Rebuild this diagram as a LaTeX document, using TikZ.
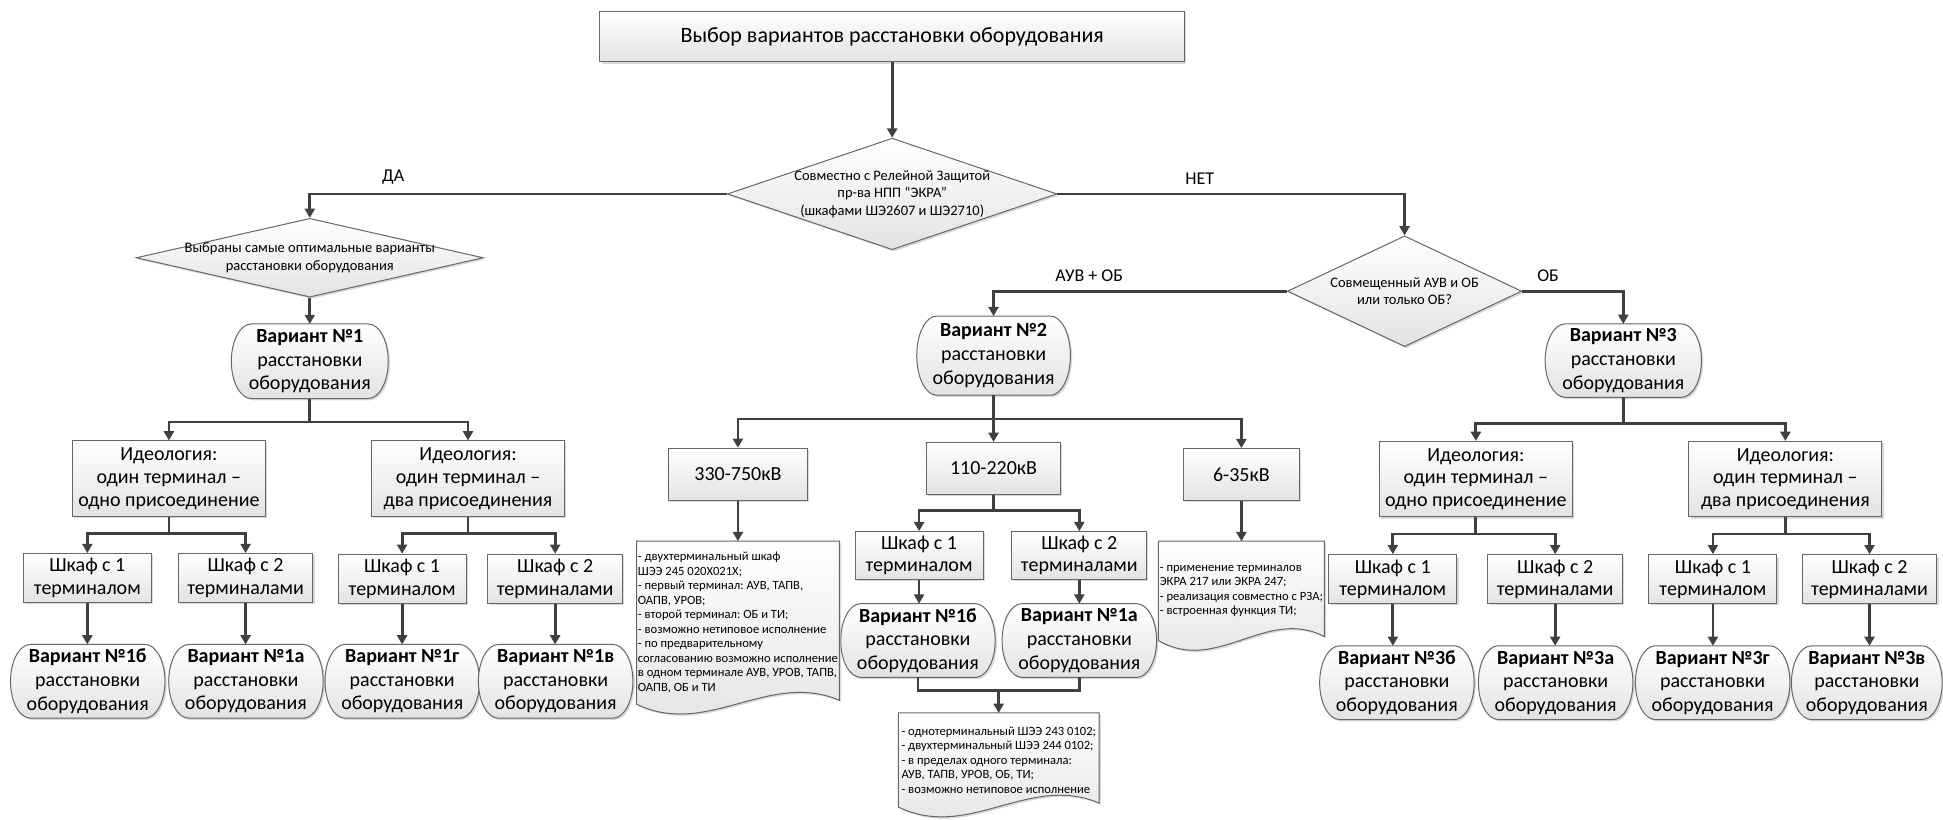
\documentclass[tikz,border=0pt]{standalone}
\usepackage{fontspec}
\setmainfont{Carlito}
\frenchspacing
\usetikzlibrary{shapes.geometric,arrows.meta,calc,shadows}

\tikzset{
    conn/.style={draw=black!75, line width=1.4pt, -{Triangle[length=4.6pt,width=5pt]}},
    bus/.style={draw=black!75, line width=1.4pt},
    gfill/.style={draw=black!60, line width=0.5pt, top color=white, bottom color=black!11,
        drop shadow={shadow xshift=0.9pt, shadow yshift=-0.9pt, fill=black!30}},
    box/.style={gfill, align=center, inner sep=1pt, font=\fontsize{10}{11.3}\selectfont},
    idea/.style={box, minimum width=96.5pt, minimum height=37.8pt},
    cab/.style={box, minimum width=#1, minimum height=24.5pt},
    cab/.default=64pt,
    volt/.style={box, minimum height=26pt},
    decision/.style={gfill, diamond, inner sep=0pt},
    dtext/.style={align=center, font=\fontsize{7.25}{8.8}\selectfont},
    branch/.style={font=\fontsize{9}{10}\selectfont, above=1pt, inner sep=3pt},
    variant/.style={align=center, inner sep=0pt, minimum width=76.9pt, minimum height=36.5pt,
        font=\fontsize{10}{11.8}\selectfont,
        append after command={\pgfextra{
            \path[gfill] let \p1=(\tikzlastnode.north west), \p2=(\tikzlastnode.south east),
                \n1={(\y1-\y2)/2} in
                (\x1+10pt,\y1) -- (\x2-10pt,\y1)
                arc[start angle=90, end angle=-90, x radius=10pt, y radius={\n1*1pt}]
                -- (\x1+10pt,\y2)
                arc[start angle=270, end angle=90, x radius=10pt, y radius={\n1*1pt}] -- cycle;}}},
    note/.style={align=left, inner xsep=0.5pt, inner ysep=0pt,
        font=\fontsize{6.3}{7.25}\selectfont,
        append after command={\pgfextra{
            \path[gfill] let \p1=(\tikzlastnode.north west), \p2=(\tikzlastnode.south east),
                \n1={\x2-\x1} in
                (\x1,\y1) -- (\x2,\y1) -- (\x2,\y2+2pt)
                .. controls (\x1+0.65*\n1,\y2+17pt) and (\x1+0.35*\n1,\y2-17pt) .. (\x1,\y2)
                -- cycle;}}}
}

\begin{document}
\begin{tikzpicture}[x=0.62pt, y=-0.62pt]
    \useasboundingbox (0,0) rectangle (1568,661);

    % Start
    \node[box, minimum width=292.6pt, minimum height=25.4pt, font=\fontsize{11}{13}\selectfont]
        (title) at (720,29.5) {Выбор вариантов расстановки оборудования};

    % Questions
    \node[decision, minimum width=164.9pt, minimum height=55.8pt,
        label={[dtext]center:{Совместно с Релейной Защитой\\пр-ва НПП “ЭКРА”\\(шкафами ШЭ2607 и ШЭ2710)}}]
        (rza) at (720,156.5) {};
    \node[decision, minimum width=173.6pt, minimum height=39.4pt,
        label={[dtext]center:{Выбраны самые оптимальные варианты\\расстановки оборудования}}]
        (best) at (250,208) {};
    \node[decision, minimum width=117.2pt, minimum height=55.4pt,
        label={[dtext]center:{Совмещенный АУВ и ОБ\\или только ОБ?}}]
        (auvob) at (1133.5,235) {};

    % Variants 1, 2, 3
    \node[variant, minimum width=78.1pt, minimum height=36.9pt] (var1) at (250,291.5)
        {\textbf{Вариант №1}\\расстановки\\оборудования};
    \node[variant, minimum width=76.5pt, minimum height=39.2pt] (var2) at (801.8,287)
        {\textbf{Вариант №2}\\расстановки\\оборудования};
    \node[variant, minimum width=77.8pt, minimum height=36.3pt] (var3) at (1310,291)
        {\textbf{Вариант №3}\\расстановки\\оборудования};

    % Ideology
    \node[idea] (idea1a) at (136.3,386.3) {Идеология:\\один терминал –\\одно присоединение};
    \node[idea] (idea1b) at (377.7,386.3) {Идеология:\\один терминал –\\два присоединения};
    \node[idea] (idea3a) at (1191,386.7) {Идеология:\\один терминал –\\одно присоединение};
    \node[idea] (idea3b) at (1440.8,386.7) {Идеология:\\один терминал –\\два присоединения};

    % Voltage classes
    \node[volt, minimum width=69.8pt] (kv330) at (595.5,382.7) {330-750кВ};
    \node[volt, minimum width=67.1pt] (kv110) at (801.8,378) {110-220кВ};
    \node[volt, minimum width=58.1pt] (kv6) at (1001.8,383) {6-35кВ};

    % Cabinets
    \node[cab] (cab1a) at (70.5,466.5) {Шкаф с 1\\терминалом};
    \node[cab=67.4pt] (cab1b) at (198.2,466.5) {Шкаф с 2\\терминалами};
    \node[cab] (cab1c) at (324.5,467) {Шкаф с 1\\терминалом};
    \node[cab=67.4pt] (cab1d) at (448,467) {Шкаф с 2\\терминалами};
    \node[cab, minimum height=23.9pt] (cab2a) at (741.7,448.3) {Шкаф с 1\\терминалом};
    \node[cab=67.4pt, minimum height=23.9pt] (cab2b) at (871,448.3) {Шкаф с 2\\терминалами};
    \node[cab] (cab3a) at (1124,467.4) {Шкаф с 1\\терминалом};
    \node[cab=67.4pt] (cab3b) at (1255,467.4) {Шкаф с 2\\терминалами};
    \node[cab] (cab3c) at (1382.3,467.4) {Шкаф с 1\\терминалом};
    \node[cab=67.4pt] (cab3d) at (1508.7,467.4) {Шкаф с 2\\терминалами};

    % Resulting variants
    \node[variant] (var1b) at (70.8,549.8) {\textbf{Вариант №1б}\\расстановки\\оборудования};
    \node[variant] (var1a) at (198.5,549.8) {\textbf{Вариант №1а}\\расстановки\\оборудования};
    \node[variant] (var1g) at (324.6,549.8) {\textbf{Вариант №1г}\\расстановки\\оборудования};
    \node[variant] (var1v) at (448.4,549.8) {\textbf{Вариант №1в}\\расстановки\\оборудования};
    \node[variant] (var2b) at (740.8,516.9) {\textbf{Вариант №1б}\\расстановки\\оборудования};
    \node[variant] (var2a) at (871,516.9) {\textbf{Вариант №1а}\\расстановки\\оборудования};
    \node[variant] (var3b) at (1127.3,550.9) {\textbf{Вариант №3б}\\расстановки\\оборудования};
    \node[variant] (var3a) at (1255.4,550.9) {\textbf{Вариант №3а}\\расстановки\\оборудования};
    \node[variant] (var3g) at (1382.1,550.9) {\textbf{Вариант №3г}\\расстановки\\оборудования};
    \node[variant, minimum width=75pt] (var3v) at (1506.5,550.9) {\textbf{Вариант №3в}\\расстановки\\оборудования};

    % Notes
    \node[note, minimum width=99.7pt, minimum height=81.2pt] (note330) at (595.5,502.5)
        {- двухтерминальный шкаф\\ШЭЭ 245 020Х021Х;\\- первый терминал: АУВ, ТАПВ,\\ОАПВ, УРОВ;\\- второй терминал: ОБ и ТИ;\\- возможно нетиповое исполнение\\- по предварительному\\согласованию возможно исполнение\\в одном терминале АУВ, УРОВ, ТАПВ,\\ОАПВ, ОБ и ТИ};
    \node[note, minimum width=100pt, minimum height=46.7pt] (note110) at (806,613.3)
        {- однотерминальный ШЭЭ 243 0102;\\- двухтерминальный ШЭЭ 244 0102;\\- в пределах одного терминала:\\АУВ, ТАПВ, УРОВ, ОБ, ТИ;\\- возможно нетиповое исполнение};
    \node[note, minimum width=82.2pt, minimum height=49.3pt] (note6) at (1001.8,476.8)
        {- применение терминалов\\ЭКРА 217 или ЭКРА 247;\\- реализация совместно с РЗА;\\- встроенная функция ТИ;};

    % Top branches
    \draw[conn] (title) -- (rza);
    \draw[conn] (rza.west) -| node[branch, pos=0.4] (yes) {ДА} (best.north);
    \draw[conn] (rza.east) -| node[branch, pos=0.205] (no) {НЕТ} (auvob.north);
    \draw[conn] (best) -- (var1);
    \draw[conn] (auvob.west) -| node[branch, pos=0.337] (both) {АУВ + ОБ} (var2.north);
    \draw[conn] (auvob.east) -| node[branch, pos=0.128] (obonly) {ОБ} (var3.north);

    % Variant 1 tree
    \draw[conn] (var1.south) -- ++(0,19) -| (idea1a.north);
    \draw[conn] (var1.south) -- ++(0,19) -| (idea1b.north);
    \draw[conn] (idea1a.south) -- ++(0,13.4) -| (cab1a.north);
    \draw[conn] (idea1a.south) -- ++(0,13.4) -| (cab1b.north);
    \draw[conn] (idea1b.south) -- ++(0,13.4) -| (cab1c.north);
    \draw[conn] (idea1b.south) -- ++(0,13.4) -| (cab1d.north);
    \draw[conn] (cab1a) -- (cab1a |- var1b.north);
    \draw[conn] (cab1b) -- (cab1b |- var1a.north);
    \draw[conn] (cab1c) -- (cab1c |- var1g.north);
    \draw[conn] (cab1d) -- (cab1d |- var1v.north);

    % Variant 2 tree
    \draw[conn] (var2.south) -- ++(0,19.2) -| (kv330.north);
    \draw[conn] (var2.south) -- ++(0,19.2) -| (kv6.north);
    \draw[conn] (var2) -- (kv110);
    \draw[conn] (kv330) -- (note330);
    \draw[conn] (kv6) -- (note6);
    \draw[conn] (kv110.south) -- ++(0,12.3) -| (cab2a.north);
    \draw[conn] (kv110.south) -- ++(0,12.3) -| (cab2b.north);
    \draw[conn] (cab2a) -- (cab2a |- var2b.north);
    \draw[conn] (cab2b) -- (cab2b |- var2a.north);
    \draw[bus] (var2b.south) -- ++(0,10.3) -| (var2a.south);
    \coordinate (join2) at ($(var2b.south)!0.5!(var2a.south) + (0,10.3)$);
    \draw[conn] (join2) -- (join2 |- note110.north);

    % Variant 3 tree
    \draw[conn] (var3.south) -- ++(0,21) -| (idea3a.north);
    \draw[conn] (var3.south) -- ++(0,21) -| (idea3b.north);
    \draw[conn] (idea3a.south) -- ++(0,13.4) -| (cab3a.north);
    \draw[conn] (idea3a.south) -- ++(0,13.4) -| (cab3b.north);
    \draw[conn] (idea3b.south) -- ++(0,13.4) -| (cab3c.north);
    \draw[conn] (idea3b.south) -- ++(0,13.4) -| (cab3d.north);
    \draw[conn] (cab3a) -- (cab3a |- var3b.north);
    \draw[conn] (cab3b) -- (cab3b |- var3a.north);
    \draw[conn] (cab3c) -- (cab3c |- var3g.north);
    \draw[conn] (cab3d) -- (cab3d |- var3v.north);

\end{tikzpicture}
\end{document}
